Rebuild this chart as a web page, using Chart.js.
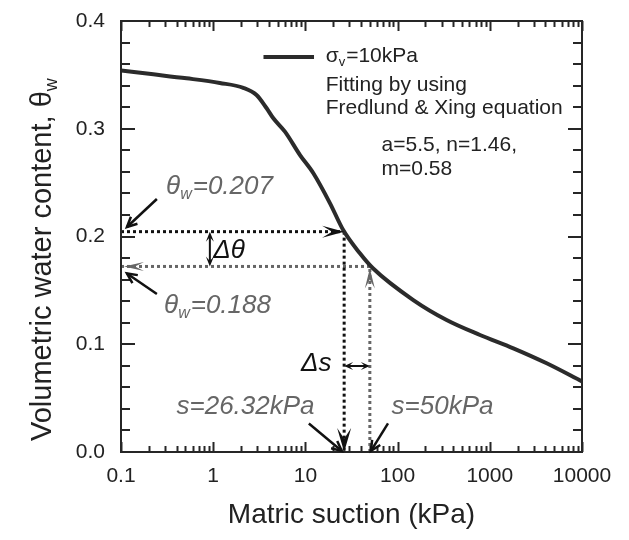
<!DOCTYPE html>
<html>
<head>
<meta charset="utf-8">
<script src="https://cdn.jsdelivr.net/npm/chart.js@4.4.1/dist/chart.umd.min.js"></script>
<style>
  html, body { margin: 0; padding: 0; background: #fff; }
</style>
</head>
<body>
<canvas id="swcc" width="629" height="540"></canvas>
<script>
// fitted curve
var suction = [0.1, 0.224, 0.515, 1.18, 2.12, 2.95, 3.8, 4.49, 6.0, 8.74, 12.2, 18.5, 25.7, 39, 54, 148, 340, 783, 1800, 4140, 10000];
var theta   = [0.354, 0.3505, 0.3468, 0.3425, 0.338, 0.3313, 0.319, 0.3097, 0.2973, 0.2756, 0.2587, 0.2308, 0.206, 0.1844, 0.1705, 0.141, 0.1225, 0.1086, 0.0962, 0.0823, 0.0655];

// the two picked suctions and their water contents
var pickSuction = [26.32, 50];
var pickTheta = [0.2045, 0.1722];

var xTickLabels = ['0.1', '1', '10', '100', '1000', '10000'];
var yTickLabels = ['0.0', '0.1', '0.2', '0.3', '0.4'];

var FONT = '"Liberation Sans", Arial, sans-serif';
var GREY = '#666666';
var INK = '#222222';

function pts(xs, ys) {
  return xs.map(function (x, i) { return { x: x, y: ys[i] }; });
}

function isDecade(v) {
  var l = Math.log10(v);
  return Math.abs(l - Math.round(l)) < 1e-9;
}

// stealth arrow head, tip at (x,y), pointing along angle a
function head(ctx, x, y, a, len, half, color) {
  var c = Math.cos(a), s = Math.sin(a);
  ctx.fillStyle = color;
  ctx.beginPath();
  ctx.moveTo(x, y);
  ctx.lineTo(x - len * c - half * s, y - len * s + half * c);
  ctx.lineTo(x - len * 0.55 * c, y - len * 0.55 * s);
  ctx.lineTo(x - len * c + half * s, y - len * s - half * c);
  ctx.closePath();
  ctx.fill();
}

function vHead(ctx, x, y, a, len, color) {
  ctx.strokeStyle = color;
  ctx.beginPath();
  ctx.moveTo(x - len * Math.cos(a - 0.45), y - len * Math.sin(a - 0.45));
  ctx.lineTo(x, y);
  ctx.lineTo(x - len * Math.cos(a + 0.45), y - len * Math.sin(a + 0.45));
  ctx.stroke();
}

// text with one subscript: [main, sub, rest]
function subText(ctx, x, y, parts, size, italic, color) {
  var st = italic ? 'italic ' : '';
  ctx.fillStyle = color;
  ctx.textBaseline = 'middle';
  ctx.textAlign = 'left';
  ctx.font = st + size + 'px ' + FONT;
  ctx.fillText(parts[0], x, y);
  x += ctx.measureText(parts[0]).width;
  ctx.font = st + Math.round(size * 0.62) + 'px ' + FONT;
  ctx.fillText(parts[1], x, y + size * 0.3);
  x += ctx.measureText(parts[1]).width + 1;
  ctx.font = st + size + 'px ' + FONT;
  ctx.fillText(parts[2], x, y);
}

function tickLine(ctx, x0, y0, x1, y1) {
  ctx.beginPath();
  ctx.moveTo(x0, y0);
  ctx.lineTo(x1, y1);
  ctx.stroke();
}

var marks = {
  id: 'marks',
  afterDraw: function (chart) {
    var ctx = chart.ctx, a = chart.chartArea;
    var xs = chart.scales.x, ys = chart.scales.y;
    var px = function (v) { return xs.getPixelForValue(v); };
    var py = function (v) { return ys.getPixelForValue(v); };
    ctx.save();
    ctx.setLineDash([]);

    // frame and inward ticks
    ctx.strokeStyle = '#262626';
    ctx.lineWidth = 2;
    ctx.strokeRect(a.left, a.top, a.width, a.height);
    xs.ticks.forEach(function (t) {
      var p = Math.round(px(t.value)) + 0.5, len = isDecade(t.value) ? 10 : 6;
      tickLine(ctx, p, a.bottom, p, a.bottom - len);
      tickLine(ctx, p, a.top, p, a.top + len);
    });
    ys.ticks.forEach(function (t) {
      var p = Math.round(py(t.value)), m = Math.abs(t.value * 10 - Math.round(t.value * 10)) < 1e-6;
      var len = m ? 14 : 9;
      tickLine(ctx, a.left, p, a.left + len, p);
      tickLine(ctx, a.right, p, a.right - len, p);
    });

    // arrow heads on the dotted guides
    var s1 = px(pickSuction[0]), s2 = px(pickSuction[1]);
    var t1 = py(pickTheta[0]), t2 = py(pickTheta[1]);
    head(ctx, s1, t1, 0, 22, 6, '#111');
    head(ctx, a.left + 3, t2, Math.PI, 20, 4.5, GREY);
    head(ctx, s1, a.bottom, Math.PI / 2, 24, 7, '#111');
    head(ctx, s2, t2 + 2, -Math.PI / 2, 20, 5, GREY);

    // delta theta and delta s
    ctx.strokeStyle = '#111';
    ctx.lineWidth = 2;
    var dx = px(0.92);
    tickLine(ctx, dx, t1 + 4, dx, t2 - 4);
    head(ctx, dx, t1, -Math.PI / 2, 10, 4, '#111');
    head(ctx, dx, t2, Math.PI / 2, 10, 4, '#111');
    var dy = py(0.0798);
    tickLine(ctx, s1 + 4, dy, s2 - 4, dy);
    head(ctx, s1, dy, Math.PI, 9, 4, '#111');
    head(ctx, s2, dy, 0, 9, 4, '#111');

    // pointer arrows to the values
    ctx.lineWidth = 2.5;
    [[0.245, 0.2348, 0.116, 0.2088], [0.245, 0.1466, 0.116, 0.1657],
     [10.9, 0.0265, 24.8, 0.001], [78.7, 0.0265, 51.4, 0.001]].forEach(function (r) {
      var x0 = px(r[0]), y0 = py(r[1]), x1 = px(r[2]), y1 = py(r[3]);
      ctx.strokeStyle = '#111';
      tickLine(ctx, x0, y0, x1, y1);
      vHead(ctx, x1, y1, Math.atan2(y1 - y0, x1 - x0), 11, '#111');
    });

    // labels
    subText(ctx, px(0.308), py(0.2462), ['\u03b8', 'w', '=0.207'], 26, true, GREY);
    subText(ctx, px(0.293), py(0.136), ['\u03b8', 'w', '=0.188'], 26, true, GREY);
    ctx.font = 'italic 26px ' + FONT;
    ctx.fillStyle = '#111';
    ctx.fillText('\u0394\u03b8', px(1.0), py(0.1865));
    ctx.fillText('\u0394s', px(8.96), py(0.0817));
    ctx.fillStyle = GREY;
    ctx.fillText('s=26.32kPa', px(0.4), py(0.0418));
    ctx.fillText('s=50kPa', px(86), py(0.0418));

    // legend and fit note
    ctx.strokeStyle = '#2b2b2b';
    ctx.lineWidth = 4;
    tickLine(ctx, px(3.51), py(0.3665), px(12.4), py(0.3665));
    subText(ctx, px(16.6), py(0.3675), ['\u03c3', 'v', '=10kPa'], 21, false, INK);
    ctx.font = '21px ' + FONT;
    ctx.fillStyle = INK;
    ctx.fillText('Fitting by using', px(16.6), py(0.3405));
    ctx.fillText('Fredlund & Xing equation', px(16.6), py(0.3195));
    ctx.fillText('a=5.5, n=1.46,', px(67), py(0.2845));
    ctx.fillText('m=0.58', px(67), py(0.262));

    // y axis title with subscript
    ctx.translate(43, a.bottom - 11);
    ctx.rotate(-Math.PI / 2);
    subText(ctx, 0, 0, ['Volumetric water content, \u03b8', 'w', ''], 29, false, INK);
    ctx.restore();
  }
};

var dotted = { borderWidth: 3, borderDash: [3, 3], pointRadius: 0, showLine: true, fill: false };

new Chart(document.getElementById('swcc'), {
  type: 'scatter',
  data: {
    datasets: [
      {
        data: pts(suction, theta),
        borderColor: '#2b2b2b', borderWidth: 4, pointRadius: 0,
        showLine: true, cubicInterpolationMode: 'monotone'
      },
      Object.assign({}, dotted, { borderColor: '#111',
        data: [{ x: 0.1, y: pickTheta[0] }, { x: pickSuction[0], y: pickTheta[0] }] }),
      Object.assign({}, dotted, { borderColor: '#111',
        data: [{ x: pickSuction[0], y: pickTheta[0] }, { x: pickSuction[0], y: 0 }] }),
      Object.assign({}, dotted, { borderColor: GREY,
        data: [{ x: 0.1, y: pickTheta[1] }, { x: pickSuction[1], y: pickTheta[1] }] }),
      Object.assign({}, dotted, { borderColor: GREY,
        data: [{ x: pickSuction[1], y: 0 }, { x: pickSuction[1], y: pickTheta[1] }] })
    ]
  },
  options: {
    responsive: false,
    animation: false,
    devicePixelRatio: 1,
    layout: { padding: { top: 21, right: 47, left: 0, bottom: 0 } },
    plugins: { legend: { display: false }, tooltip: { enabled: false } },
    scales: {
      x: {
        type: 'logarithmic',
        min: 0.1, max: 10000,
        grid: { display: false },
        border: { display: false },
        afterBuildTicks: function (scale) {
          var t = [];
          for (var e = -1; e <= 4; e++) {
            for (var m = 1; m <= 9; m++) {
              var v = +(m * Math.pow(10, e)).toPrecision(10);
              if (v >= 0.1 && v <= 10000) t.push({ value: v });
            }
          }
          scale.ticks = t;
        },
        afterFit: function (scale) { scale.height = 88; },
        ticks: {
          autoSkip: false, maxRotation: 0, padding: 4,
          color: INK, font: { family: FONT, size: 21 },
          callback: function (v) {
            return isDecade(v) ? xTickLabels[Math.round(Math.log10(v)) + 1] : '';
          }
        },
        title: {
          display: true, text: 'Matric suction (kPa)', color: INK,
          font: { family: FONT, size: 28 }, padding: { top: 0, bottom: 8 }
        }
      },
      y: {
        min: 0, max: 0.4,
        grid: { display: false },
        border: { display: false },
        afterFit: function (scale) { scale.width = 121; },
        ticks: {
          stepSize: 0.02, autoSkip: false, padding: 8,
          color: INK, font: { family: FONT, size: 21 },
          callback: function (v) {
            var i = Math.round(v * 10);
            return Math.abs(v * 10 - i) < 1e-6 ? yTickLabels[i] : '';
          }
        }
      }
    }
  },
  plugins: [marks]
});
</script>
</body>
</html>
